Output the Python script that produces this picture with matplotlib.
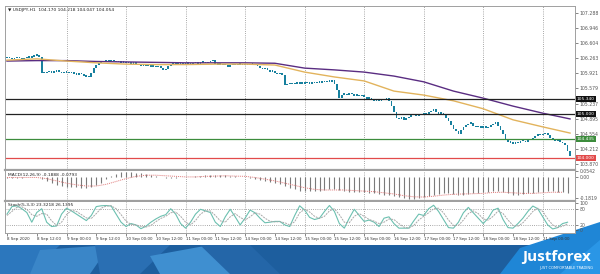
import matplotlib
matplotlib.use("Agg")
import matplotlib.pyplot as plt
from matplotlib.patches import Polygon, Rectangle

# hourly closes, one row per trading day (8 Sep .. 21 Sep 2020)
closes = [
    106.27, 106.29, 106.26, 106.28, 106.30, 106.27, 106.25, 106.28, 106.30, 106.29, 106.31, 106.33,
    106.35, 106.30, 105.95, 105.93, 105.96, 105.98, 105.95, 105.97, 106.00, 105.96, 105.94, 105.97,
    105.95, 105.93, 105.96, 105.92, 105.90, 105.94, 105.91, 105.88, 105.86, 105.84, 105.95, 106.05,
    106.12, 106.17, 106.19, 106.21, 106.22, 106.20, 106.23, 106.21, 106.18, 106.19, 106.17, 106.18,
    106.16, 106.18, 106.15, 106.18, 106.14, 106.12, 106.10, 106.13, 106.09, 106.11, 106.08, 106.10,
    106.07, 106.09, 106.05, 106.00, 106.04, 106.10, 106.14, 106.16, 106.13, 106.15, 106.17, 106.14,
    106.15, 106.17, 106.14, 106.16, 106.18, 106.15, 106.17, 106.19, 106.16, 106.18, 106.20, 106.23,
    106.15, 106.13, 106.14, 106.11, 106.12, 106.07, 106.12, 106.14, 106.11, 106.13, 106.15, 106.12,
    106.14, 106.12, 106.15, 106.13, 106.11, 106.10, 106.06, 106.03, 106.05, 106.00, 105.97, 105.99,
    105.95, 105.92, 105.94, 105.90, 105.66, 105.68, 105.70, 105.69, 105.71, 105.70, 105.72, 105.70,
    105.71, 105.72, 105.70, 105.73, 105.71, 105.74, 105.72, 105.75, 105.73, 105.76, 105.74, 105.78,
    105.70, 105.55, 105.38, 105.45, 105.47, 105.44, 105.48, 105.46, 105.43, 105.45, 105.42, 105.44,
    105.40, 105.36, 105.38, 105.33, 105.30, 105.34, 105.31, 105.35, 105.33, 105.38, 105.30, 105.20,
    105.05, 104.93, 104.90, 104.94, 104.88, 104.92, 104.95, 104.98, 105.00, 104.97, 105.02, 104.99,
    105.03, 105.00, 105.05, 105.08, 105.13, 105.05, 105.02, 105.04, 105.00, 104.93, 104.85, 104.76,
    104.68, 104.62, 104.57, 104.65, 104.72, 104.76, 104.79, 104.80, 104.75, 104.71, 104.74, 104.70,
    104.73, 104.69, 104.72, 104.76, 104.78, 104.82, 104.75, 104.66, 104.55, 104.45, 104.38, 104.36,
    104.34, 104.37, 104.35, 104.39, 104.41, 104.38, 104.42, 104.44, 104.46, 104.52, 104.55, 104.53,
    104.56, 104.58, 104.54, 104.47, 104.44, 104.40, 104.42, 104.38, 104.35, 104.30, 104.17, 104.054,
]

# moving averages read every 12 hours
ma_hours = [0, 12, 24, 36, 48, 60, 72, 84, 96, 108, 120, 132, 144, 156, 168, 180, 192, 204, 216, 227]
ma_slow = [106.20, 106.21, 106.21, 106.19, 106.18, 106.17, 106.16, 106.16, 106.16, 106.15,
           106.04, 106.00, 105.95, 105.86, 105.73, 105.52, 105.36, 105.18, 105.02, 104.89]
ma_fast = [106.22, 106.25, 106.20, 106.16, 106.13, 106.12, 106.12, 106.13, 106.13, 106.11,
           105.95, 105.84, 105.75, 105.52, 105.43, 105.30, 105.12, 104.87, 104.71, 104.57]

levels = [105.34, 105.00, 104.435, 104.00]
level_labels = ["105.340", "105.000", "104.435", "104.000"]
level_colors = ["#222222", "#222222", "#3c8c3c", "#e24a4a"]
level_box = ["#111111", "#111111", "#3c8c3c", "#e24a4a"]

price_ticks = [107.288, 106.946, 106.604, 106.263, 105.921, 105.579, 105.237, 104.895, 104.554, 104.212, 103.870]

# MACD histogram every 2 hours
macd_hist = [
    -0.005, -0.004, -0.003, -0.002, 0.000, 0.002, 0.004, -0.010, -0.030, -0.050, -0.065, -0.075,
    -0.082, -0.086, -0.088, -0.090, -0.090, -0.085, -0.070, -0.045, -0.015, 0.015, 0.035, 0.045,
    0.048, 0.046, 0.042, 0.036, 0.028, 0.020, 0.012, 0.005, -0.002, -0.004, -0.002, 0.000,
    0.003, 0.006, 0.010, 0.014, 0.018, 0.020, 0.022, 0.020, 0.018, 0.014, 0.010, 0.006,
    0.000, -0.005, -0.012, -0.020, -0.030, -0.040, -0.050, -0.060, -0.075, -0.090, -0.105, -0.115,
    -0.120, -0.123, -0.120, -0.115, -0.110, -0.105, -0.100, -0.110, -0.120, -0.125, -0.125, -0.125,
    -0.130, -0.135, -0.140, -0.145, -0.150, -0.155, -0.165, -0.175, -0.182, -0.185, -0.185, -0.180,
    -0.172, -0.165, -0.155, -0.145, -0.140, -0.140, -0.145, -0.150, -0.150, -0.145, -0.140, -0.135,
    -0.130, -0.125, -0.120, -0.120, -0.130, -0.140, -0.150, -0.150, -0.145, -0.140, -0.135, -0.130,
    -0.125, -0.120, -0.120, -0.125, -0.130, -0.140,
]
# MACD signal every 4 hours
macd_signal = [
    0.000, 0.000, 0.000, 0.000, -0.010, -0.030, -0.050, -0.065, -0.075, -0.075, -0.060, -0.035,
    -0.010, 0.010, 0.020, 0.020, 0.015, 0.010, 0.005, 0.005, 0.010, 0.012, 0.015, 0.012,
    0.010, 0.000, -0.015, -0.030, -0.050, -0.070, -0.090, -0.105, -0.110, -0.110, -0.110, -0.115,
    -0.120, -0.125, -0.135, -0.145, -0.160, -0.170, -0.172, -0.165, -0.155, -0.148, -0.145, -0.143,
    -0.140, -0.132, -0.130, -0.135, -0.140, -0.140, -0.135, -0.130, -0.130,
]

# Stochastic every 2 hours
stoch_k = [
    60, 88, 91, 80, 66, 30, 66, 80, 30, 14, 16, 60,
    82, 72, 60, 48, 36, 55, 88, 91, 92, 90, 60, 30,
    14, 25, 20, 6, 15, 30, 42, 52, 58, 80, 60, 25,
    8, 30, 60, 78, 72, 66, 30, 14, 50, 78, 50, 20,
    45, 75, 65, 45, 28, 30, 33, 33, 20, 14, 55, 91,
    75, 48, 40, 45, 70, 92, 70, 25, 8, 45, 78, 55,
    33, 38, 30, 14, 45, 50, 25, 8, 8, 8, 35, 60,
    55, 80, 93, 70, 40, 10, 8, 30, 65, 85, 65, 45,
    25, 45, 75, 82, 40, 10, 8, 25, 45, 70, 90, 80,
    50, 20, 5, 10, 25, 30,
]
stoch_d = [
    55, 70, 85, 87, 78, 58, 52, 62, 60, 35, 18, 30,
    58, 74, 70, 58, 46, 44, 62, 82, 90, 91, 80, 58,
    34, 22, 20, 15, 12, 18, 32, 44, 52, 65, 68, 52,
    30, 20, 36, 60, 72, 72, 55, 35, 30, 50, 62, 48,
    38, 50, 65, 60, 45, 34, 31, 32, 28, 20, 32, 65,
    78, 68, 52, 44, 52, 72, 80, 58, 30, 28, 52, 62,
    52, 40, 34, 25, 30, 42, 40, 25, 12, 8, 18, 38,
    52, 65, 80, 82, 65, 38, 18, 18, 38, 62, 72, 62,
    42, 38, 52, 72, 62, 38, 18, 15, 28, 48, 70, 82,
    70, 42, 20, 10, 15, 24,
]

date_hours = list(range(0, 217, 12))
date_labels = ["8 Sep 2020", "8 Sep 12:00", "9 Sep 00:00", "9 Sep 12:00", "10 Sep 00:00",
               "10 Sep 12:00", "11 Sep 00:00", "11 Sep 12:00", "14 Sep 00:00", "14 Sep 12:00",
               "15 Sep 00:00", "15 Sep 12:00", "16 Sep 00:00", "16 Sep 12:00", "17 Sep 00:00",
               "17 Sep 12:00", "18 Sep 00:00", "18 Sep 12:00", "21 Sep 00:00"]

W, H = 600, 274
fig = plt.figure(figsize=(6, 2.74), dpi=100)
fig.patch.set_facecolor("white")

def frac(x0, y0, x1, y1):
    return [x0 / W, 1 - y1 / H, (x1 - x0) / W, (y1 - y0) / H]

ax = fig.add_axes(frac(5, 6, 575, 170))
axm = fig.add_axes(frac(5, 171, 575, 201))
axs = fig.add_axes(frac(5, 202, 575, 233))

xlim = (-0.8, 229.0)
grid_kw = dict(color="#8c8c8c", lw=0.6, ls=(0, (1, 1.6)))
for a in (ax, axm, axs):
    a.set_xlim(*xlim)
    for s in a.spines.values():
        s.set_color("#a0a0a0")
        s.set_linewidth(0.7)
    for g in range(24, 217, 24):
        a.axvline(g, zorder=0, **grid_kw)
    a.set_xticks([])
    a.yaxis.tick_right()
    a.tick_params(axis="y", length=2, width=0.5, colors="#555555", labelsize=3.3, pad=1.5)
ax.spines["bottom"].set_linewidth(1.6)
axm.spines["bottom"].set_linewidth(1.6)
axm.spines["top"].set_visible(False)
axs.spines["top"].set_visible(False)

# price panel
ax.set_ylim(103.734, 107.446)
hours = list(range(len(closes)))
for h in hours:
    o = closes[h - 1] if h > 0 else closes[0]
    c = closes[h]
    lo = min(o, c)
    hi = max(o, c)
    ax.bar(h, max(hi - lo, 0.03), bottom=lo - 0.01, width=0.7, color="#17809e", lw=0)
ax.plot(ma_hours, ma_slow, color="#5a2d82", lw=1.0)
ax.plot(ma_hours, ma_fast, color="#e2b35c", lw=1.0)
for lv, lab, col, box in zip(levels, level_labels, level_colors, level_box):
    ax.axhline(lv, color=col, lw=0.9)
    ax.text(1.003, lv, lab, transform=ax.get_yaxis_transform(), fontsize=3.2, color="white",
            va="center", ha="left",
            bbox=dict(boxstyle="square,pad=0.25", fc=box, ec="none"))
ax.set_yticks(price_ticks)
ax.set_yticklabels([f"{t:.3f}" for t in price_ticks])
ax.text(0.006, 0.985, "\u25bc USDJPY,H1  104.170 104.218 104.047 104.054", transform=ax.transAxes,
        fontsize=3.2, va="top", ha="left", color="#222222")

# MACD panel
axm.set_ylim(-0.207, 0.057)
hist_hours = list(range(0, 228, 2))
axm.vlines(hist_hours, 0, macd_hist, color="#7a7a7a", lw=0.8)
axm.plot(list(range(0, 228, 4)), macd_signal, color="#e07a7a", lw=0.7, ls=(0, (1, 1)))
axm.set_yticks([0.0542, 0.0, -0.1819])
axm.set_yticklabels(["0.0542", "0.00", "-0.1819"])
axm.text(0.006, 0.93, "MACD(12,26,9) -0.1888 -0.0793", transform=axm.transAxes,
         fontsize=3.2, va="top", ha="left", color="#222222")

# Stochastic panel
axs.set_ylim(-10, 105)
axs.axhline(80, **grid_kw)
axs.axhline(20, **grid_kw)
axs.plot(hist_hours, stoch_k, color="#6cc0b0", lw=0.8)
axs.plot(hist_hours, stoch_d, color="#a8a8a8", lw=0.7, ls=(0, (2, 1)))
axs.set_yticks([100, 80, 20, 0])
axs.set_yticklabels(["100", "80", "20", "0"])
axs.text(0.006, 0.97, "Stoch(5,3,3) 23.3218 26.1395", transform=axs.transAxes,
         fontsize=3.2, va="top", ha="left", color="#222222")
axs.set_xticks(date_hours)
axs.set_xticklabels(date_labels, fontsize=2.9, ha="left", color="#333333")
axs.tick_params(axis="x", length=2, width=0.5, colors="#555555", pad=1.2)
for lab in axs.get_xticklabels():
    lab.set_color("#333333")

# banner
axb = fig.add_axes([0, 0, 1, 1])
axb.set_xlim(0, W)
axb.set_ylim(H, 0)
axb.axis("off")
axb.set_zorder(-1)
axb.add_patch(Rectangle((0, 245), W, 29, color="#1d5e9e", lw=0))
shapes = [
    ([(0, 245), (60, 245), (30, 274), (0, 274)], "#2c77bd"),
    ([(40, 250), (110, 245), (90, 274), (30, 274)], "#3a86c8"),
    ([(95, 245), (170, 245), (140, 274), (100, 274)], "#2a6fb3"),
    ([(150, 256), (210, 245), (240, 274), (160, 274)], "#3f8fd0"),
    ([(200, 245), (250, 245), (280, 274), (230, 274)], "#2466a8"),
]
for pts, col in shapes:
    axb.add_patch(Polygon(pts, closed=True, color=col, lw=0))
axb.add_patch(Polygon([(500, 274), (520, 248), (600, 222), (600, 274)], closed=True,
                      color="#1f86d6", lw=0))
axb.add_patch(Polygon([(560, 274), (600, 240), (600, 274)], closed=True, color="#2a96e6", lw=0))
axb.text(557, 257, "Justforex", fontsize=11, color="white", ha="center", va="center",
         fontweight="bold", family="Open Sans")
axb.text(566, 268, "JUST COMFORTABLE TRADING", fontsize=2.6, color="white", ha="center",
         va="center")

fig.savefig("out.png", dpi=100)
